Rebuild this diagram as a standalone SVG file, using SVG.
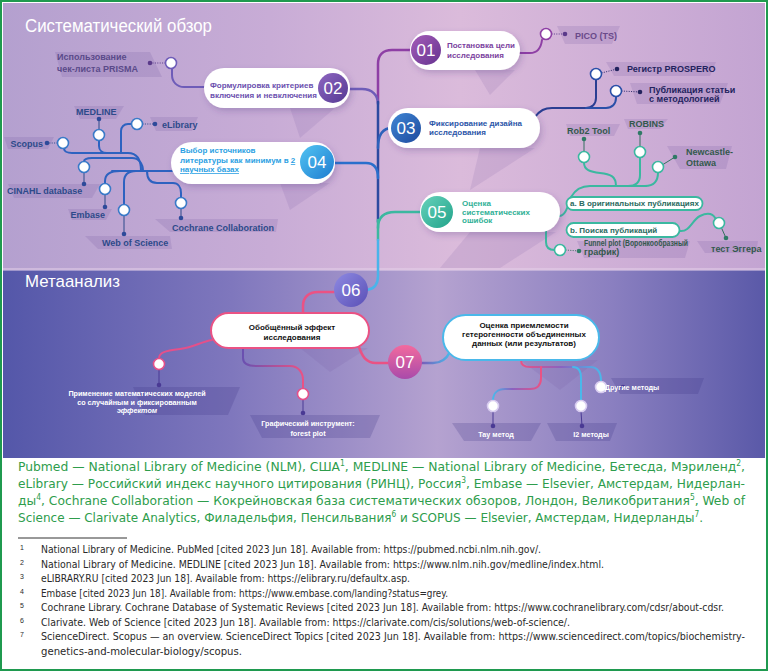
<svg xmlns="http://www.w3.org/2000/svg" width="768" height="671" viewBox="0 0 768 671">
<defs>
<linearGradient id="gTop" x1="0" y1="0" x2="1" y2="0">
<stop offset="0" stop-color="#b4a0cf"/><stop offset="0.35" stop-color="#c8acd6"/><stop offset="0.6" stop-color="#dbbbdb"/><stop offset="1" stop-color="#c3a4d2"/>
</linearGradient>
<linearGradient id="gBot" x1="0" y1="0" x2="1" y2="0">
<stop offset="0" stop-color="#5457a9"/><stop offset="0.3" stop-color="#7f77bd"/><stop offset="0.57" stop-color="#b5a2d0"/><stop offset="0.8" stop-color="#8a7fc0"/><stop offset="1" stop-color="#5a59a8"/>
</linearGradient>
<linearGradient id="g01" x1="0" y1="0" x2="1" y2="1"><stop offset="0" stop-color="#a45cb8"/><stop offset="1" stop-color="#663390"/></linearGradient>
<linearGradient id="g02" x1="0" y1="0" x2="1" y2="1"><stop offset="0" stop-color="#8e66c0"/><stop offset="1" stop-color="#553a94"/></linearGradient>
<linearGradient id="g03" x1="0" y1="0" x2="1" y2="1"><stop offset="0" stop-color="#3f86d4"/><stop offset="1" stop-color="#1e4a9e"/></linearGradient>
<linearGradient id="g04" x1="0" y1="0" x2="1" y2="1"><stop offset="0" stop-color="#52c4f2"/><stop offset="1" stop-color="#1f7cd0"/></linearGradient>
<linearGradient id="g05" x1="0" y1="0" x2="1" y2="1"><stop offset="0" stop-color="#66d2bb"/><stop offset="1" stop-color="#22a38a"/></linearGradient>
<linearGradient id="g06" x1="0" y1="0" x2="1" y2="1"><stop offset="0" stop-color="#8e8ae2"/><stop offset="1" stop-color="#5a4fb6"/></linearGradient>
<linearGradient id="g07" x1="0" y1="0" x2="0" y2="1"><stop offset="0" stop-color="#f26a9e"/><stop offset="1" stop-color="#a94aaa"/></linearGradient>
<linearGradient id="sForest" gradientUnits="userSpaceOnUse" x1="243" y1="0" x2="303" y2="0"><stop offset="0" stop-color="#6a50b0"/><stop offset="1" stop-color="#ea5284"/></linearGradient>
<linearGradient id="s07" gradientUnits="userSpaceOnUse" x1="421" y1="0" x2="450" y2="0"><stop offset="0" stop-color="#7a5ab8"/><stop offset="1" stop-color="#4ab8ea"/></linearGradient>
<linearGradient id="sMeth" gradientUnits="userSpaceOnUse" x1="521" y1="0" x2="601" y2="0"><stop offset="0" stop-color="#ea5284"/><stop offset="0.5" stop-color="#8a62c0"/><stop offset="1" stop-color="#4ab8ea"/></linearGradient>
<linearGradient id="sTau" gradientUnits="userSpaceOnUse" x1="541" y1="0" x2="493" y2="0"><stop offset="0" stop-color="#ea5284"/><stop offset="0.6" stop-color="#8a62c0"/><stop offset="1" stop-color="#4ab8ea"/></linearGradient>
<filter id="sh" x="-20%" y="-30%" width="140%" height="180%"><feDropShadow dx="2" dy="3" stdDeviation="3" flood-color="#4a2a7a" flood-opacity="0.25"/></filter>
<style>
.cn{fill:none;stroke-linecap:round;stroke-linejoin:round}
.nt{font-family:"Liberation Sans",Arial,sans-serif;font-weight:bold;font-size:8px}
.num{font-family:"Liberation Sans",Arial,sans-serif;font-size:17px;fill:#fff;text-anchor:middle}
.lb{font-family:"Liberation Sans",Arial,sans-serif;font-weight:bold;font-size:9px}
.wl{font-family:"Liberation Sans",Arial,sans-serif;font-weight:bold;font-size:7.2px;fill:#fff;text-anchor:middle}
.c{fill:#fff;stroke-width:1.6}
.st{fill:none;stroke-width:1}
.dt{fill:none;stroke-width:1;stroke-dasharray:1 1.4}
.tag{fill:#5e4596;opacity:.15}
.tagd{fill:#3a3184;opacity:.22}
.shd{fill:#6a4a9a;opacity:.13}
.grn{font-family:"Liberation Sans Narrow","DejaVu Sans Condensed","Liberation Sans",Arial,sans-serif;font-size:13px;fill:#2e9d4c}
.fn{font-family:"Liberation Sans Narrow","DejaVu Sans Condensed","Liberation Sans",Arial,sans-serif;font-size:10.5px;fill:#2a2a2a}
.fnn{font-family:"Liberation Sans",Arial,sans-serif;font-size:7px;fill:#2a2a2a}
</style>
</defs>

<rect x="0" y="0" width="768" height="671" fill="#fff"/>
<rect x="3" y="3" width="762" height="267" fill="url(#gTop)"/>
<rect x="3" y="270" width="762" height="188" fill="url(#gBot)"/>
<rect x="3" y="268" width="762" height="3" fill="#e6d2ea" opacity="0.5"/>

<g id="shadows">
<polygon class="shd" points="290,108 335,108 300,138"/>
<polygon class="shd" points="475,70 515,70 490,95"/>
<polygon class="shd" points="480,148 535,148 470,190"/>
<polygon class="shd" points="280,183 330,183 290,210"/>
<polygon class="shd" points="470,232 556,232 500,268 440,268"/>
<polygon class="shd" points="300,348 368,348 330,372"/>
<polygon class="shd" points="520,360 598,360 560,390"/>
</g>

<text x="25" y="32" font-family="Liberation Sans, Arial, sans-serif" font-size="18" fill="#fff" textLength="187" lengthAdjust="spacingAndGlyphs">Систематический обзор</text>
<text x="25" y="287" font-family="Liberation Sans, Arial, sans-serif" font-size="17" fill="#fff" textLength="95" lengthAdjust="spacingAndGlyphs">Метаанализ</text>

<g id="tags">
<polygon class="tag" points="557,26 620,26 612,44 565,44"/>
<polygon class="tag" points="606,62 716,62 710,76 614,76"/>
<polygon class="tag" points="630,83 728,83 720,104 637,104"/>
<polygon class="tag" points="55,52 150,52 162,77 62,77"/>
<polygon class="tag" points="74,106 124,106 116,119 80,119"/>
<polygon class="tag" points="4,137 54,137 48,149 8,149"/>
<polygon class="tag" points="150,117 198,117 192,131 156,131"/>
<polygon class="tag" points="8,184 100,184 92,198 14,198"/>
<polygon class="tag" points="68,209 112,209 106,220 72,220"/>
<polygon class="tag" points="85,236 170,236 172,249 98,249"/>
<polygon class="tag" points="155,219 278,219 276,232 170,232"/>
<polygon class="tag" points="566,124 620,124 614,136 570,136"/>
<polygon class="tag" points="624,119 668,119 660,129 628,129"/>
<polygon class="tag" points="667,146 732,146 726,169 680,169"/>
<polygon class="tag" points="697,241 758,241 756,253 705,253"/>
<polygon class="tag" points="577,241 690,241 685,258 584,258"/>
<polygon class="tagd" points="133,387 240,387 228,415 145,415"/>
<polygon class="tagd" points="250,415 380,415 370,438 262,438"/>
<polygon class="tagd" points="452,423 541,423 531,441 464,441"/>
<polygon class="tagd" points="547,423 617,423 610,441 556,441"/>
<polygon class="tagd" points="611,378 704,378 698,394 620,394"/>
</g>

<g id="connectors">
<path class="cn" d="M411 50 L392 50 C383 50 378 55 378 64 L378 102" stroke="#8e3fa5" stroke-width="2.5"/>
<path class="cn" d="M348 89 L362 89 C372 89 378 95 378 104" stroke="#6e5cb8" stroke-width="2.5"/>
<path class="cn" d="M378 102 L378 222" stroke="#2c4aa0" stroke-width="2.5"/>
<path class="cn" d="M378 148 C378 135 382 128 392 128" stroke="#2d62bb" stroke-width="2.5"/>
<path class="cn" d="M334 163 L366 163 C374 163 378 168 378 178" stroke="#2a6fcc" stroke-width="2.5"/>
<path class="cn" d="M378 228 C378 217 384 212 395 212 L422 212" stroke="#3bb8a0" stroke-width="2.5"/>
<path class="cn" d="M378 220 L378 240" stroke="#3bb8a0" stroke-width="2.5"/>
<path class="cn" d="M378 240 L378 276 C378 284 374 289 367 290" stroke="#4ab4ea" stroke-width="2.5"/>

<path class="cn" d="M514 53 L530 53 C537 53 541 48 542 40" stroke="#8e3fa5" stroke-width="2"/>
<path class="dt" d="M551.5 34 L565 34" stroke="#5a3a8a"/>
<path class="cn" d="M205 87 L184 87 C177 87 172 82 172 75 L172 68.5" stroke="#6e5cb8" stroke-width="2"/>
<path class="dt" d="M165.5 63 L150 63" stroke="#5a3a8a"/>
<path class="cn" d="M534 118 C540 110 545 108 552 108 L586 108 C592 108 596 104 596 98 L596 79.5" stroke="#2a3e92" stroke-width="2"/>
<path class="cn" d="M586 108 L606 108 C612 108 616 104 616 98 L616 96.5" stroke="#2a4fa8" stroke-width="2"/>
<path class="dt" d="M601.5 73 L617 69" stroke="#2a2a6a"/>
<path class="dt" d="M621.5 91 L640 92" stroke="#2a2a6a"/>
<g stroke="#2d62c0" stroke-width="2">
<path class="cn" d="M172 171 L112 171"/>
<path class="cn" d="M141 171 C141 160 137 153 128 153 L72 153 C67 153 64 151 64 148.5"/>
<path class="cn" d="M143 171 C143 164 139 158 132 158 L92 158 C87 158 84 159 84 161.5"/>
<path class="cn" d="M99 140.5 L99 146 C99 150 102 153 107 153"/>
<path class="cn" d="M121 153 L121 131 C121 127 124 124 128 124 L131.5 124"/>
<path class="cn" d="M120 171 C110 171 105 174 105 181 L105 183.5"/>
<path class="cn" d="M136 171 C128 171 124 175 124 182 L124 204.5"/>
<path class="cn" d="M147 171 C147 179 150 183 157 183 L173 183 C178 183 181 187 181 193 L181 197.5"/>
</g>
<g stroke="#2d4a8a">
<path class="dt" d="M57.5 143 L47 143"/>
<path class="st" d="M99 129.5 L99 119"/>
<path class="dt" d="M142.5 124 L155 124"/>
<path class="st" d="M84 172.5 L84 184"/>
<path class="st" d="M105 194.5 L105 207"/>
<path class="st" d="M124 215.5 L124 234"/>
<path class="st" d="M181 208.5 L181 218"/>
</g>
<g stroke="#3bb8a0" stroke-width="2">
<path class="cn" d="M559 216 C566 216 568 205 571 197 C575 190 580 186 590 186 L646 186"/>
<path class="cn" d="M584 162.5 C584 170 590 172 600 173 C610 174 616 176 616 186"/>
<path class="cn" d="M640 157.5 L640 175 C640 183 636 186 628 186"/>
<path class="cn" d="M658 172.5 C658 181 654 186 645 186"/>
<path class="cn" d="M680 231 C690 232 692 220 700 216 C708 212 713 214 715.5 218.5"/>
<path class="cn" d="M546 231 L546 242 C546 248 549 250 554.5 250"/>
</g>
<g stroke="#35705f">
<path class="st" d="M584 151.5 L584 139"/>
<path class="st" d="M640 146.5 L640 133"/>
<path class="st" d="M663 164.5 L675 157"/>
<path class="st" d="M721.5 228 L726 238"/>
<path class="dt" d="M565.5 250 L579 251"/>
</g>
<path class="cn" d="M334 292 L318 292 C308 292 303 298 303 306 L303 313" stroke="#ea5284" stroke-width="2.5"/>
<path class="cn" d="M212 340 C200 342 195 347 180 349 C165 351 159 352 159 358.5" stroke="#e4508a" stroke-width="2"/>
<path class="cn" d="M243 348 L243 358 C243 364 248 366 256 366 L290 366 C298 366 303 372 303 380 L303 388.5" stroke="url(#sForest)" stroke-width="2"/>
<path class="cn" d="M359 347 C362 356 366 363 376 363 L389 363" stroke="#ea5284" stroke-width="2.5"/>
<path class="cn" d="M421 363 L433 363 C442 363 447 358 450 352" stroke="url(#s07)" stroke-width="2.5"/>
<path class="cn" d="M521 359 L521 360 C521 365 524 367 530 367 L590 367 C597 367 601 372 601 381.5" stroke="url(#sMeth)" stroke-width="2"/>
<path class="cn" d="M573 367 C579 367 581 371 581 378 L581 400.5" stroke="#4ab8ea" stroke-width="2"/>
<path class="cn" d="M541 367 L541 378 C541 385 537 389 530 389 L505 389 C498 389 493 393 493 400.5" stroke="url(#sTau)" stroke-width="2"/>
<g stroke="#4a3a94">
<path class="st" d="M159 369.5 L159 385"/>
<path class="st" d="M303 399.5 L303 413"/>
<path class="st" d="M493 411.5 L493 426"/>
<path class="st" d="M581 411.5 L582 426"/>
<path class="st" d="M606.5 387 L623 387"/>
</g>
</g>

<g id="markers">
<circle class="c" cx="546" cy="34" r="5.5" stroke="#8e3fa5"/><circle cx="565" cy="34" r="2.3" fill="#5a3a8a"/>
<circle class="c" cx="171" cy="63" r="5.5" stroke="#6e5cb8"/><circle cx="150" cy="63" r="2.3" fill="#5a3a8a"/>
<circle class="c" cx="596" cy="74" r="5.5" stroke="#2a4fa8"/><circle cx="617" cy="69" r="2.3" fill="#23235e"/>
<circle class="c" cx="616" cy="91" r="5.5" stroke="#2a4fa8"/><circle cx="640" cy="92" r="2.3" fill="#23235e"/>
<g stroke="#3a7ac8">
<circle class="c" cx="63" cy="143" r="5.5"/><circle class="c" cx="99" cy="135" r="5.5"/><circle class="c" cx="137" cy="124" r="5.5"/>
<circle class="c" cx="84" cy="167" r="5.5"/><circle class="c" cx="105" cy="189" r="5.5"/><circle class="c" cx="124" cy="210" r="5.5"/><circle class="c" cx="181" cy="203" r="5.5"/>
</g>
<g fill="#2d4a9a">
<circle cx="47" cy="143" r="2.3"/><circle cx="99" cy="119" r="2.3"/><circle cx="155" cy="124" r="2.3"/><circle cx="84" cy="184" r="2.3"/>
<circle cx="105" cy="207" r="2.3"/><circle cx="124" cy="234" r="2.3"/><circle cx="181" cy="218" r="2.3"/>
</g>
<g stroke="#3bb8a0">
<circle class="c" cx="584" cy="157" r="5.5"/><circle class="c" cx="640" cy="152" r="5.5"/><circle class="c" cx="658" cy="167" r="5.5"/>
<circle class="c" cx="719" cy="223" r="5.5"/><circle class="c" cx="560" cy="250" r="5.5"/>
</g>
<g fill="#2f7a66">
<circle cx="584" cy="139" r="2.3"/><circle cx="640" cy="133" r="2.3"/><circle cx="675" cy="157" r="2.3"/><circle cx="726" cy="238" r="2.3"/><circle cx="579" cy="251" r="2.3"/>
</g>
<circle class="c" cx="159" cy="364" r="5.5" stroke="#e4508a"/>
<circle class="c" cx="303" cy="394" r="5.5" stroke="#e4508a"/>
<circle class="c" cx="493" cy="406" r="5.5" stroke="#d8ccf0"/>
<circle class="c" cx="581" cy="406" r="5.5" stroke="#d8ccf0"/>
<circle class="c" cx="601" cy="387" r="5.5" stroke="#d8ccf0"/>
<g fill="#4a3a94">
<circle cx="159" cy="385" r="2.3"/><circle cx="303" cy="413" r="2.3"/><circle cx="493" cy="426" r="2.3"/><circle cx="582" cy="426" r="2.3"/><circle cx="623" cy="387" r="2.3"/>
</g>
</g>

<g id="labels">
<text class="lb" x="575" y="38.5" fill="#6a4a8a" font-size="9.5">PICO (TS)</text>
<text class="lb" x="57" y="60" fill="#5a4a8a"><tspan x="57">Использование</tspan><tspan x="57" y="71.5">чек-листа PRISMA</tspan></text>
<text class="lb" x="627" y="72" fill="#23235e" font-size="9.8">Регистр PROSPERO</text>
<text class="lb" x="649" y="93" fill="#23235e" font-size="8.3"><tspan x="649">Публикация статьи</tspan><tspan x="649" y="101.5">с методологией</tspan></text>
<g fill="#2d4a8a">
<text class="lb" x="43" y="146.5" text-anchor="end">Scopus</text>
<text class="lb" x="76" y="115">MEDLINE</text>
<text class="lb" x="162" y="127.5">eLibrary</text>
<text class="lb" x="7" y="193.5">CINAHL database</text>
<text class="lb" x="105" y="217.5" text-anchor="end">Embase</text>
<text class="lb" x="102" y="246">Web of Science</text>
<text class="lb" x="172" y="230.5">Cochrane Collaboration</text>
</g>
<g fill="#33594c">
<text class="lb" x="567" y="134">Rob2 Tool</text>
<text class="lb" x="629" y="126.5">ROBINS</text>
<text class="lb" x="686" y="155"><tspan x="686">Newcastle-</tspan><tspan x="686" y="165.5">Ottawa</tspan></text>
<text class="lb" x="711" y="252" font-size="8.5">тест Эггера</text>
<text class="lb" x="584" y="246" font-size="6.2" textLength="104" lengthAdjust="spacingAndGlyphs">Funnel plot (Воронкообразный</text>
<text class="lb" x="584" y="255" font-size="6.4">график)</text>
</g>
<text class="wl" x="137" y="396">Применение математических моделей</text>
<text class="wl" x="137" y="404.5">со случайным и фиксированным</text>
<text class="wl" x="137" y="412.5" font-style="italic" font-size="6.2">эффектом</text>
<text class="wl" x="308" y="426" font-size="8.3">Графический инструмент:</text>
<text class="wl" x="308" y="435.5" font-size="8.3">forest plot</text>
<text class="wl" x="496" y="437" font-size="8.8">Тау метод</text>
<text class="wl" x="591" y="437" font-size="8.8">I2 методы</text>
<text class="wl" x="632" y="390" font-size="8.8" text-anchor="start">Другие методы</text>
</g>

<g id="node01">
<rect x="410" y="31" width="110" height="39" rx="19.5" fill="#fff" filter="url(#sh)"/>
<circle cx="426" cy="50" r="15" fill="url(#g01)"/>
<text class="num" x="426" y="56">01</text>
<text class="nt" fill="#7b3f9e"><tspan x="447" y="48">Постановка цели</tspan><tspan x="447" y="58">исследования</tspan></text>
</g>
<g id="node02">
<rect x="204" y="68" width="146" height="40" rx="20" fill="#fff" filter="url(#sh)"/>
<circle cx="333" cy="88" r="15" fill="url(#g02)"/>
<text class="num" x="333" y="94">02</text>
<text class="nt" fill="#6b4fae"><tspan x="210" y="88">Формулировка критериев</tspan><tspan x="210" y="98">включения и невключения</tspan></text>
</g>
<g id="node03">
<rect x="388" y="108" width="152" height="40" rx="20" fill="#fff" filter="url(#sh)"/>
<circle cx="406" cy="128" r="15" fill="url(#g03)"/>
<text class="num" x="406" y="134">03</text>
<text class="nt" fill="#2b55a8"><tspan x="429" y="125.5">Фиксирование дизайна</tspan><tspan x="429" y="134.5">исследования</tspan></text>
</g>
<g id="node04">
<rect x="171" y="142" width="164" height="42" rx="21" fill="#fff" filter="url(#sh)"/>
<circle cx="317" cy="162" r="17" fill="url(#g04)"/>
<text class="num" x="317" y="168">04</text>
<text class="nt" fill="#2c9fe3" font-size="7.7"><tspan x="180" y="153">Выбор источников</tspan><tspan x="180" y="163">литературы как минимум в <tspan text-decoration="underline">2</tspan></tspan><tspan x="180" y="172" text-decoration="underline">научных базах</tspan></text>
</g>
<g id="node05">
<rect x="420" y="192" width="140" height="40" rx="20" fill="#fff" filter="url(#sh)"/>
<circle cx="437" cy="212" r="16" fill="url(#g05)"/>
<text class="num" x="437" y="218">05</text>
<text class="nt" fill="#2fb096"><tspan x="462" y="206">Оценка</tspan><tspan x="462" y="214.5">систематических</tspan><tspan x="462" y="223">ошибок</tspan></text>
</g>
<g id="node05a">
<rect x="566.5" y="197" width="136" height="13" rx="6.5" fill="#fff" stroke="#3bb8a0" stroke-width="1.8"/>
<text class="nt" x="570" y="206.3" fill="#2a6a60" font-size="7.3">a. В оригинальных публикациях</text>
</g>
<g id="node05b">
<rect x="566.5" y="223" width="113" height="14" rx="7" fill="#fff" stroke="#3bb8a0" stroke-width="1.8"/>
<text class="nt" x="570" y="233" fill="#2a6a60" font-size="7.6">b. Поиска публикаций</text>
</g>
<g id="node06">
<circle cx="351" cy="290" r="17" fill="url(#g06)"/>
<text class="num" x="351" y="296">06</text>
</g>
<g id="node06a">
<rect x="211" y="313" width="158" height="35" rx="17.5" fill="#fff" stroke="#ea5284" stroke-width="2"/>
<text class="nt" fill="#111" text-anchor="middle"><tspan x="292" y="329.5">Обобщённый эффект</tspan><tspan x="292" y="339.5">исследования</tspan></text>
</g>
<g id="node07">
<circle cx="405" cy="362" r="17" fill="url(#g07)"/>
<text class="num" x="405" y="368">07</text>
</g>
<g id="node07a">
<rect x="443" y="315" width="156" height="45" rx="22.5" fill="#fff" stroke="#4ab8ea" stroke-width="2"/>
<text class="nt" fill="#111" text-anchor="middle" font-size="7.8"><tspan x="524" y="328">Оценка приемлемости</tspan><tspan x="524" y="337">гетерогенности объединенных</tspan><tspan x="524" y="345.5">данных (или результатов)</tspan></text>
</g>

<g id="notes">
<text class="grn" x="18" y="471" textLength="727" lengthAdjust="spacingAndGlyphs">Pubmed — National Library of Medicine (NLM), США<tspan font-size="8" dy="-5">1</tspan><tspan dy="5">, MEDLINE — National Library of Medicine, Бетесда, Мэриленд</tspan><tspan font-size="8" dy="-5">2</tspan><tspan dy="5">,</tspan></text>
<text class="grn" x="18" y="488" textLength="727" lengthAdjust="spacingAndGlyphs">eLibrary — Российский индекс научного цитирования (РИНЦ), Россия<tspan font-size="8" dy="-5">3</tspan><tspan dy="5">, Embase — Elsevier, Амстердам, Нидерлан-</tspan></text>
<text class="grn" x="18" y="505" textLength="727" lengthAdjust="spacingAndGlyphs">ды<tspan font-size="8" dy="-5">4</tspan><tspan dy="5">, Cochrane Collaboration — Кокрейновская база систематических обзоров, Лондон, Великобритания</tspan><tspan font-size="8" dy="-5">5</tspan><tspan dy="5">, Web of</tspan></text>
<text class="grn" x="18" y="522" textLength="685" lengthAdjust="spacingAndGlyphs">Science — Clarivate Analytics, Филадельфия, Пенсильвания<tspan font-size="8" dy="-5">6</tspan><tspan dy="5"> и SCOPUS — Elsevier, Амстердам, Нидерланды</tspan><tspan font-size="8" dy="-5">7</tspan><tspan dy="5">.</tspan></text>
<line x1="18" y1="538" x2="127" y2="538" stroke="#333" stroke-width="1"/>
<text class="fnn" x="20" y="550">1</text>
<text class="fn" x="41" y="553" textLength="500" lengthAdjust="spacingAndGlyphs">National Library of Medicine. PubMed [cited 2023 Jun 18]. Available from: https://pubmed.ncbi.nlm.nih.gov/.</text>
<text class="fnn" x="20" y="564.5">2</text>
<text class="fn" x="41" y="567.5" textLength="563" lengthAdjust="spacingAndGlyphs">National Library of Medicine. MEDLINE [cited 2023 Jun 18]. Available from: https://www.nlm.nih.gov/medline/index.html.</text>
<text class="fnn" x="20" y="579">3</text>
<text class="fn" x="41" y="582" textLength="369" lengthAdjust="spacingAndGlyphs">eLIBRARY.RU [cited 2023 Jun 18]. Available from: https://elibrary.ru/defaultx.asp.</text>
<text class="fnn" x="20" y="593.5">4</text>
<text class="fn" x="41" y="596.5" textLength="407" lengthAdjust="spacingAndGlyphs">Embase [cited 2023 Jun 18]. Available from: https://www.embase.com/landing?status=grey.</text>
<text class="fnn" x="20" y="608">5</text>
<text class="fn" x="41" y="611" textLength="683" lengthAdjust="spacingAndGlyphs">Cochrane Library. Cochrane Database of Systematic Reviews [cited 2023 Jun 18]. Available from: https://www.cochranelibrary.com/cdsr/about-cdsr.</text>
<text class="fnn" x="20" y="622.5">6</text>
<text class="fn" x="41" y="625.5" textLength="529" lengthAdjust="spacingAndGlyphs">Clarivate. Web of Science [cited 2023 Jun 18]. Available from: https://clarivate.com/cis/solutions/web-of-science/.</text>
<text class="fnn" x="20" y="637">7</text>
<text class="fn" x="41" y="640" textLength="704" lengthAdjust="spacingAndGlyphs">ScienceDirect. Scopus — an overview. ScienceDirect Topics [cited 2023 Jun 18]. Available from: https://www.sciencedirect.com/topics/biochemistry-</text>
<text class="fn" x="41" y="654.5" textLength="201" lengthAdjust="spacingAndGlyphs">genetics-and-molecular-biology/scopus.</text>
</g>

<rect x="1" y="1" width="766" height="669" fill="none" stroke="#1f9a4f" stroke-width="2"/>
</svg>
